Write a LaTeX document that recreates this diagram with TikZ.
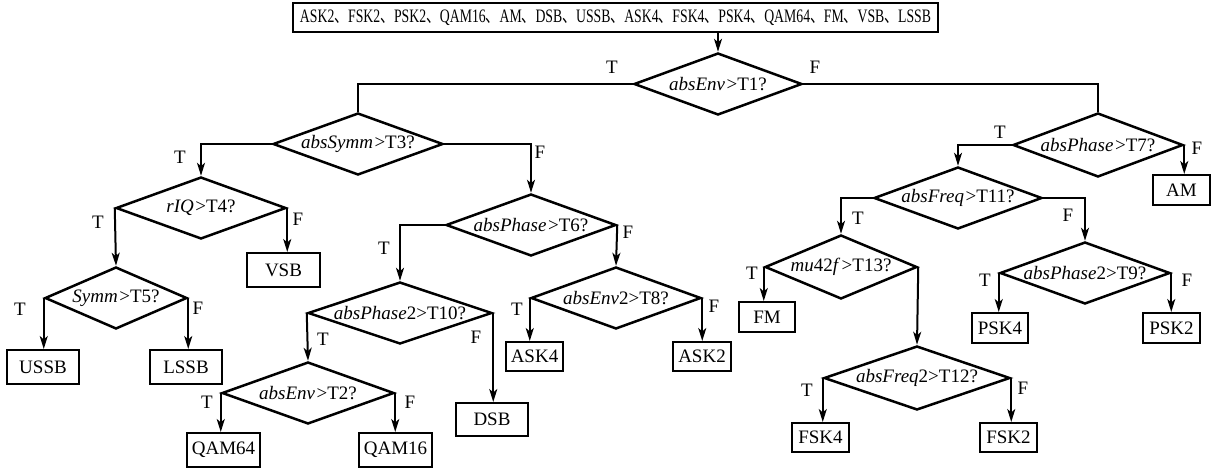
\documentclass[tikz,border=0pt]{standalone}
\usepackage{fontspec}
\setmainfont{Liberation Serif}
\newfontfamily\cjkfont{Noto Sans CJK SC}
\usepackage{graphicx}
\usetikzlibrary{shapes.geometric,arrows.meta}
\newcommand\dunhao{{\cjkfont 、}}
\newcommand\gtr{\kern1.5pt>}
\begin{document}
\begin{tikzpicture}[x=1pt,y=-1pt,font=\fontsize{19}{22}\selectfont,
  dia/.style n args={2}{diamond,draw,line width=2.5pt,minimum width=#1pt,minimum height=#2pt,inner sep=0pt},
  res/.style n args={2}{draw,line width=2pt,minimum width=#1pt,minimum height=#2pt,inner sep=0pt},
  conn/.style={line width=2pt},
  arr/.style={line width=2pt,-{Stealth[length=13pt,width=8pt,inset=3.5pt]}},
  lab/.style={inner sep=0pt}]
\useasboundingbox (0,0) rectangle (1222,471);
% top box
\node[res={645}{29}] (top) at (615.5,17.5) {\resizebox{631pt}{\height}{ASK2\dunhao FSK2\dunhao PSK2\dunhao QAM16\dunhao AM\dunhao DSB\dunhao USSB\dunhao ASK4\dunhao FSK4\dunhao PSK4\dunhao QAM64\dunhao FM\dunhao VSB\dunhao LSSB}};
% diamonds
\node[dia={168}{62},label=center:{\textit{absEnv}\gtr T1?}] (d1) at (718,84) {};
\node[dia={170}{62},label=center:{\textit{absSymm}\gtr T3?}] (d3) at (358,144) {};
\node[dia={170}{64},label=center:{\textit{absPhase}\gtr T7?}] (d7) at (1098,145) {};
\node[dia={170}{62},label=center:{\textit{rIQ}\gtr T4?}] (d4) at (201,208) {};
\node[dia={170}{62},label=center:{\textit{absPhase}\gtr T6?}] (d6) at (531,225) {};
\node[dia={142}{62},label=center:{\textit{Symm}\gtr T5?}] (d5) at (116,298) {};
\node[dia={184}{62},label=center:{\textit{absPhase}2>T10?}] (d10) at (400,313) {};
\node[dia={170}{62},label=center:{\textit{absEnv}2>T8?}] (d8) at (616,298) {};
\node[dia={172}{62},label=center:{\textit{absEnv}\gtr T2?}] (d2) at (308,393) {};
\node[dia={168}{62},label=center:{\textit{absFreq}\gtr T11?}] (d11) at (958,198) {};
\node[dia={152}{64},label=center:{\textit{mu}42\textit{f}\gtr T13?}] (d13) at (841,267) {};
\node[dia={170}{62},label=center:{\textit{absPhase}2>T9?}] (d9) at (1085,273) {};
\node[dia={186}{64},label=center:{\textit{absFreq}2>T12?}] (d12) at (917,378) {};
% result boxes
\node[res={73}{34}] (vsb) at (283.5,270) {VSB};
\node[res={72}{34}] (ussb) at (43,367) {USSB};
\node[res={72}{34}] (lssb) at (186,367) {LSSB};
\node[res={73}{34}] (qam64) at (223.5,450) {QAM64};
\node[res={73}{34}] (qam16) at (395.5,450) {QAM16};
\node[res={72}{33}] (dsb) at (492,419.5) {DSB};
\node[res={57}{29}] (ask4) at (534.5,356.5) {ASK4};
\node[res={58}{29}] (ask2) at (702,356.5) {ASK2};
\node[res={57}{30}] (am) at (1181.5,190) {AM};
\node[res={56}{30}] (fm) at (767,317) {FM};
\node[res={56}{30}] (psk4) at (1000,328) {PSK4};
\node[res={57}{30}] (psk2) at (1171.5,328) {PSK2};
\node[res={57}{29}] (fsk4) at (820.5,437.5) {FSK4};
\node[res={57}{29}] (fsk2) at (1008.5,437.5) {FSK2};
% connectors
\draw[arr] (d1.north |- top.south) -- (d1.north);
\draw[conn] (d1.west) -| (d3.north);
\draw[conn] (d1.east) -| (d7.north);
\draw[arr] (d3.west) -| (d4.north);
\draw[arr] (d3.east) -| (d6.north);
\draw[arr] (d4.west) -- (d5.north);
\draw[arr] (d4.east) -- (d4.east |- vsb.north);
\draw[arr] (d5.west) -- (d5.west |- ussb.north);
\draw[arr] (d5.east) -- (d5.east |- lssb.north);
\draw[arr] (d6.west) -| (d10.north);
\draw[arr] (d6.east) -- (d8.north);
\draw[arr] (d10.west) -- (d2.north);
\draw[arr] (d10.east) -- (d10.east |- dsb.north);
\draw[arr] (d2.west) -- (d2.west |- qam64.north);
\draw[arr] (d2.east) -- (d2.east |- qam16.north);
\draw[arr] (d8.west) -- (d8.west |- ask4.north);
\draw[arr] (d8.east) -- (d8.east |- ask2.north);
\draw[arr] (d7.west) -| (d11.north);
\draw[arr] (d7.east) -- (d7.east |- am.north);
\draw[arr] (d11.west) -| (d13.north);
\draw[arr] (d11.east) -| (d9.north);
\draw[arr] (d13.west) -- (d13.west |- fm.north);
\draw[arr] (d13.east) -- (d12.north);
\draw[arr] (d9.west) -- (d9.west |- psk4.north);
\draw[arr] (d9.east) -- (d9.east |- psk2.north);
\draw[arr] (d12.west) -- (d12.west |- fsk4.north);
\draw[arr] (d12.east) -- (d12.east |- fsk2.north);
% T/F labels
\node[lab] (t1) at (612,67) {T};
\node[lab] (f1) at (815,67) {F};
\node[lab] (t3) at (180,157) {T};
\node[lab] (f3) at (540,152) {F};
\node[lab] (t4) at (98,222) {T};
\node[lab] (f4) at (298,219) {F};
\node[lab] (t5) at (20,309) {T};
\node[lab] (f5) at (198,308) {F};
\node[lab] (t6) at (384,248) {T};
\node[lab] (f6) at (628,232) {F};
\node[lab] (t10) at (323,339) {T};
\node[lab] (f10) at (476,337) {F};
\node[lab] (t2) at (207,402) {T};
\node[lab] (f2) at (410,402) {F};
\node[lab] (t8) at (517,309) {T};
\node[lab] (f8) at (714,306) {F};
\node[lab] (t7) at (1000,132) {T};
\node[lab] (f7) at (1197,148) {F};
\node[lab] (t11) at (858,218) {T};
\node[lab] (f11) at (1068,215) {F};
\node[lab] (t13) at (752,273) {T};
\node[lab] (t12) at (807,390) {T};
\node[lab] (f12) at (1023,388) {F};
\node[lab] (t9) at (985,280) {T};
\node[lab] (f9) at (1187,280) {F};
\end{tikzpicture}
\end{document}
